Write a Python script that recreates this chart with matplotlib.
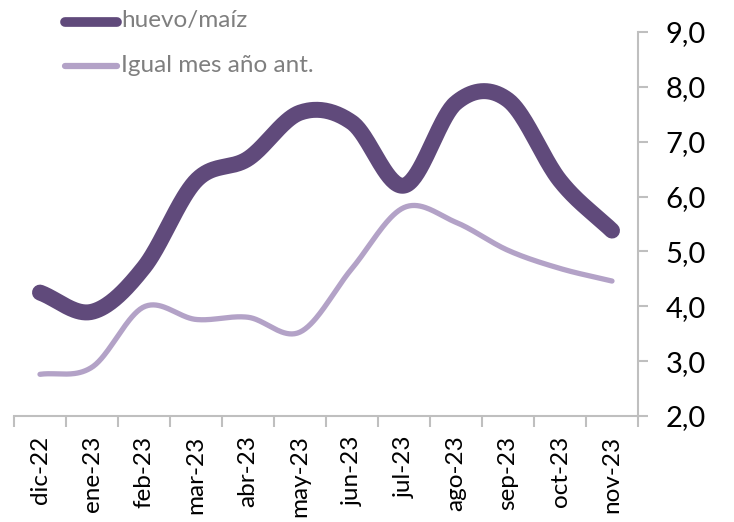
import numpy as np
import matplotlib
matplotlib.use("Agg")
import matplotlib.pyplot as plt
from matplotlib.lines import Line2D
from matplotlib.ticker import FixedLocator, FuncFormatter

plt.rcParams['font.family'] = ['Lato', 'DejaVu Sans']

# monthly series
months = ['dic-22', 'ene-23', 'feb-23', 'mar-23', 'abr-23', 'may-23',
          'jun-23', 'jul-23', 'ago-23', 'sep-23', 'oct-23', 'nov-23']
huevo_maiz = [4.25, 3.90, 4.71, 6.29, 6.69, 7.53, 7.35, 6.20, 7.71, 7.76, 6.29, 5.38]
igual_mes_ant = [2.76, 2.89, 3.99, 3.76, 3.80, 3.53, 4.69, 5.80, 5.53, 5.02, 4.69, 4.46]

DARK = '#604a7b'
LIGHT = '#b3a2c7'
GRID = '#bfbfbf'


def smooth(x, y, n=40):
    """Catmull-Rom spline through the points (spreadsheet-style smoothed line)."""
    x = np.asarray(x, float)
    y = np.asarray(y, float)
    px = np.concatenate([[2 * x[0] - x[1]], x, [2 * x[-1] - x[-2]]])
    py = np.concatenate([[2 * y[0] - y[1]], y, [2 * y[-1] - y[-2]]])
    xs, ys = [], []
    t = np.linspace(0, 1, n)
    for i in range(1, len(px) - 2):
        for p, out in ((px, xs), (py, ys)):
            p0, p1, p2, p3 = p[i - 1], p[i], p[i + 1], p[i + 2]
            c1 = p1 + (p2 - p0) / 6
            c2 = p2 - (p3 - p1) / 6
            out.append((1 - t) ** 3 * p1 + 3 * (1 - t) ** 2 * t * c1
                       + 3 * (1 - t) * t ** 2 * c2 + t ** 3 * p2)
    return np.concatenate(xs), np.concatenate(ys)


fig = plt.figure(figsize=(7.34, 5.22), dpi=100)
ax = fig.add_axes([14 / 734, 1 - 416 / 522, (638 - 14) / 734, (416 - 32) / 522])

idx = np.arange(len(months))
sx, sy = smooth(idx, igual_mes_ant)
ax.plot(sx, sy, color=LIGHT, lw=3.8, solid_capstyle='round', zorder=2)
sx, sy = smooth(idx, huevo_maiz)
ax.plot(sx, sy, color=DARK, lw=11.5, solid_capstyle='round', zorder=3)

ax.set_xlim(-0.5, len(months) - 0.5)
ax.set_ylim(2, 9)

for s in ('left', 'top'):
    ax.spines[s].set_visible(False)
for s in ('right', 'bottom'):
    ax.spines[s].set_color(GRID)
    ax.spines[s].set_linewidth(1.5)

ax.yaxis.tick_right()
ax.set_yticks(np.arange(2, 10, 1))
ax.yaxis.set_major_formatter(FuncFormatter(lambda v, p: f'{v:.1f}'.replace('.', ',')))
ax.tick_params(axis='y', direction='out', length=7, width=1.5, color=GRID,
               labelsize=21, pad=13, labelcolor='black')

# boundary ticks on the category axis, labels centred on each month
ax.xaxis.set_major_locator(FixedLocator(np.arange(-0.5, len(months), 1)))
ax.xaxis.set_major_formatter(FuncFormatter(lambda v, p: ''))
ax.xaxis.set_minor_locator(FixedLocator(idx))
ax.set_xticklabels(months, minor=True, rotation=90, fontsize=17.5)
ax.tick_params(axis='x', which='major', direction='out', length=8, width=1.5, color=GRID)
ax.tick_params(axis='x', which='minor', length=0, pad=14)

# legend in the top-left corner
fig.add_artist(Line2D([65 / 734, 117 / 734], [1 - 22 / 522] * 2, color=DARK, lw=7,
                      solid_capstyle='round', transform=fig.transFigure))
fig.add_artist(Line2D([65 / 734, 117 / 734], [1 - 66 / 522] * 2, color=LIGHT, lw=4.5,
                      solid_capstyle='round', transform=fig.transFigure))
fig.text(121 / 734, 1 - 21 / 522, 'huevo/maíz', color='#7f7f7f', fontsize=17.5, va='center')
fig.text(121 / 734, 1 - 66 / 522, 'Igual mes año ant.', color='#7f7f7f', fontsize=17.5, va='center')

fig.savefig('out.png', dpi=100, facecolor='white')
